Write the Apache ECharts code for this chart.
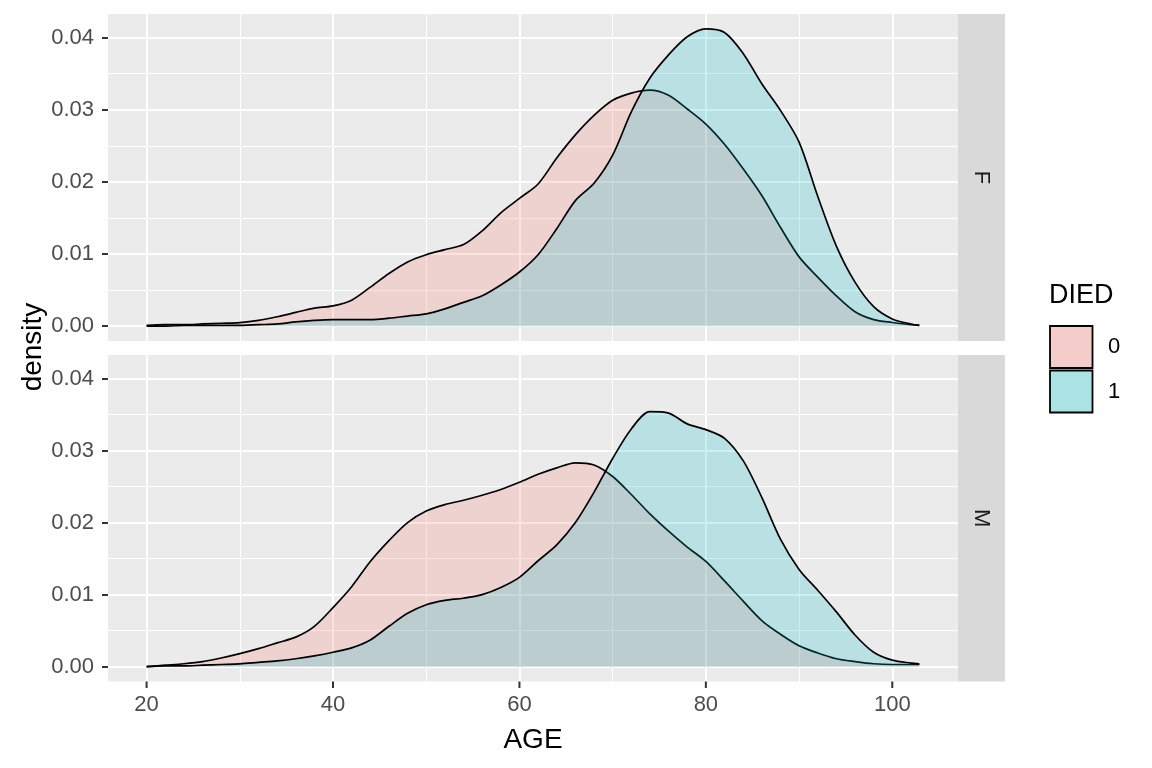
<!DOCTYPE html>
<html>
<head>
<meta charset="utf-8">
<script src="https://cdn.jsdelivr.net/npm/echarts@6/dist/echarts.min.js"></script>
<style>
html,body{margin:0;padding:0;background:#fff;}
#c{width:1152px;height:768px;}
</style>
</head>
<body>
<div id="c"></div>
<script>
// ---- data ----
const ages = [20,22,24,26,28,30,32,34,36,38,40,42,44,46,48,50,52,54,56,58,60,62,64,66,68,70,72,74,76,78,80,82,84,86,88,90,92,94,96,98,100,102,102.9];
const panels = ['F','M'];
const groups = ['0','1'];
// F, DIED = 0
const fDied0 = [0.0001,0.0002,0.0002,0.0003,0.0004,0.0005,0.0008,0.0013,0.0019,0.0025,0.0028,0.0036,0.0054,0.0073,0.0089,0.0099,0.0106,0.0113,0.0132,0.0157,0.0177,0.0197,0.0233,0.0265,0.0292,0.0313,0.0323,0.0327,0.0320,0.0301,0.0280,0.0252,0.0218,0.0181,0.0137,0.0096,0.0068,0.0042,0.0020,0.0009,0.0005,0.0002,0.0001];
// F, DIED = 1
const fDied1 = [0.0000,0.0000,0.0001,0.0001,0.0001,0.0001,0.0002,0.0003,0.0006,0.0008,0.0009,0.0009,0.0009,0.0011,0.0014,0.0017,0.0024,0.0033,0.0042,0.0057,0.0075,0.0099,0.0135,0.0174,0.0198,0.0237,0.0297,0.0344,0.0376,0.0401,0.0412,0.0407,0.0378,0.0336,0.0299,0.0255,0.0180,0.0111,0.0061,0.0027,0.0010,0.0003,0.0001];
// M, DIED = 0
const mDied0 = [0.0000,0.0002,0.0004,0.0007,0.0012,0.0018,0.0025,0.0033,0.0041,0.0056,0.0082,0.0111,0.0146,0.0175,0.0200,0.0216,0.0225,0.0231,0.0238,0.0246,0.0256,0.0267,0.0276,0.0283,0.0280,0.0264,0.0239,0.0212,0.0188,0.0166,0.0146,0.0119,0.0091,0.0064,0.0045,0.0029,0.0019,0.0011,0.0007,0.0004,0.0003,0.0003,0.0003];
// M, DIED = 1
const mDied1 = [0.0000,0.0001,0.0001,0.0002,0.0003,0.0004,0.0006,0.0008,0.0011,0.0015,0.0020,0.0026,0.0037,0.0056,0.0074,0.0086,0.0092,0.0095,0.0100,0.0110,0.0124,0.0147,0.0169,0.0200,0.0242,0.0289,0.0330,0.0354,0.0352,0.0337,0.0329,0.0317,0.0286,0.0235,0.0177,0.0135,0.0106,0.0076,0.0044,0.0020,0.0009,0.0005,0.0004];
const xTicks = [20,40,60,80,100];
const xMinor = [30,50,70,90];
const yTicks = [0,0.01,0.02,0.03,0.04];
const yMinor = [0.005,0.015,0.025,0.035];

// ---- styling ----
const FONT = 'Liberation Sans, Arial, sans-serif';
const fills = ['rgba(248,118,109,0.3)','rgba(0,191,196,0.3)'];
const keyFills = ['#F4CDCA','#A9E3E4'];
const XMIN = 15.86, XMAX = 107.05, YMIN = -0.00206, YMAX = 0.04326;
const gridsPos = [{top:14,height:327},{top:355,height:326.5}];
const GRID_LEFT = 108, GRID_W = 850;

const chart = echarts.init(document.getElementById('c'), null, {renderer:'canvas'});

const grid = gridsPos.map(g => ({left:GRID_LEFT, width:GRID_W, top:g.top, height:g.height, show:true, backgroundColor:'#EBEBEB', borderWidth:0, containLabel:false}));

const xAxis = [], yAxis = [];
gridsPos.forEach((g, gi) => {
  const isBottom = gi === gridsPos.length - 1;
  xAxis.push({type:'value', gridIndex:gi, min:XMIN, max:XMAX, position:'bottom',
    axisLine:{show:false, onZero:false},
    axisTick:{show:false, customValues:xTicks},
    axisLabel:{show:isBottom, customValues:xTicks, margin:12, color:'#4D4D4D', fontSize:22, fontFamily:FONT},
    splitLine:{show:true, lineStyle:{color:'#FFFFFF', width:2}}});
  xAxis.push({type:'value', gridIndex:gi, min:XMIN, max:XMAX, position:'top',
    axisLine:{show:false, onZero:false},
    axisTick:{show:false, customValues:xMinor},
    axisLabel:{show:false, customValues:xMinor},
    splitLine:{show:true, lineStyle:{color:'#FFFFFF', width:1}}});
  yAxis.push({type:'value', gridIndex:gi, min:YMIN, max:YMAX, position:'left',
    axisLine:{show:false, onZero:false},
    axisTick:{show:true, customValues:yTicks, length:6, lineStyle:{color:'#333333', width:2}},
    axisLabel:{show:true, customValues:yTicks, margin:14, color:'#4D4D4D', fontSize:22, fontFamily:FONT, formatter:v => v.toFixed(2)},
    splitLine:{show:true, lineStyle:{color:'#FFFFFF', width:2}}});
  yAxis.push({type:'value', gridIndex:gi, min:YMIN, max:YMAX, position:'right',
    axisLine:{show:false, onZero:false},
    axisTick:{show:false, customValues:yMinor},
    axisLabel:{show:false, customValues:yMinor},
    splitLine:{show:true, lineStyle:{color:'#FFFFFF', width:1}}});
});

const seriesData = [[fDied0, fDied1],[mDied0, mDied1]];
const series = [];
seriesData.forEach((pair, gi) => {
  pair.forEach((vals, k) => {
    series.push({
      type:'line', name:groups[k], xAxisIndex:gi*2, yAxisIndex:gi*2,
      data: ages.map((a,i) => [a, vals[i]]),
      showSymbol:false, smooth:0.3,
      lineStyle:{color:'#000000', width:1.7},
      areaStyle:{color:fills[k], origin:0},
      silent:true, z:2+k
    });
  });
});

const graphic = [];
gridsPos.forEach((g, gi) => {
  graphic.push({type:'rect', shape:{x:958, y:g.top, width:47, height:g.height}, style:{fill:'#D9D9D9'}, silent:true});
  graphic.push({type:'text', x:981.5, y:g.top + g.height/2, rotation:-Math.PI/2,
    style:{text:panels[gi], fill:'#1A1A1A', font:'22px ' + FONT, align:'center', verticalAlign:'middle'}});
});
// axis titles
graphic.push({type:'text', x:533, y:740, style:{text:'AGE', fill:'#000000', font:'28px ' + FONT, align:'center', verticalAlign:'middle'}});
graphic.push({type:'text', x:33, y:347, rotation:Math.PI/2, style:{text:'density', fill:'#000000', font:'28px ' + FONT, align:'center', verticalAlign:'middle'}});
// legend
graphic.push({type:'text', x:1049, y:296, style:{text:'DIED', fill:'#000000', font:'27px ' + FONT, align:'left', verticalAlign:'middle'}});
groups.forEach((gname, k) => {
  const y0 = 326 + k*44.5;
  graphic.push({type:'rect', shape:{x:1050, y:y0, width:42.5, height:42}, style:{fill:keyFills[k], stroke:'#000000', lineWidth:1.8}});
  graphic.push({type:'text', x:1108, y:y0 + 21, style:{text:gname, fill:'#000000', font:'22px ' + FONT, align:'left', verticalAlign:'middle'}});
});

chart.setOption({
  backgroundColor:'#FFFFFF',
  animation:false,
  grid, xAxis, yAxis, series, graphic
});

// x-axis tick marks under the bottom panel, placed through the axis scale
const lastGrid = gridsPos[gridsPos.length - 1];
const tickY = lastGrid.top + lastGrid.height;
const pxs = xTicks.map(v => chart.convertToPixel({xAxisIndex: (gridsPos.length - 1) * 2}, v));
const tickGraphics = pxs.map(px => ({type:'rect', shape:{x:px - 1, y:tickY, width:2, height:6.5}, style:{fill:'#333333'}, z:100, silent:true}));
chart.setOption({graphic: graphic.concat(tickGraphics)});
</script>
</body>
</html>
